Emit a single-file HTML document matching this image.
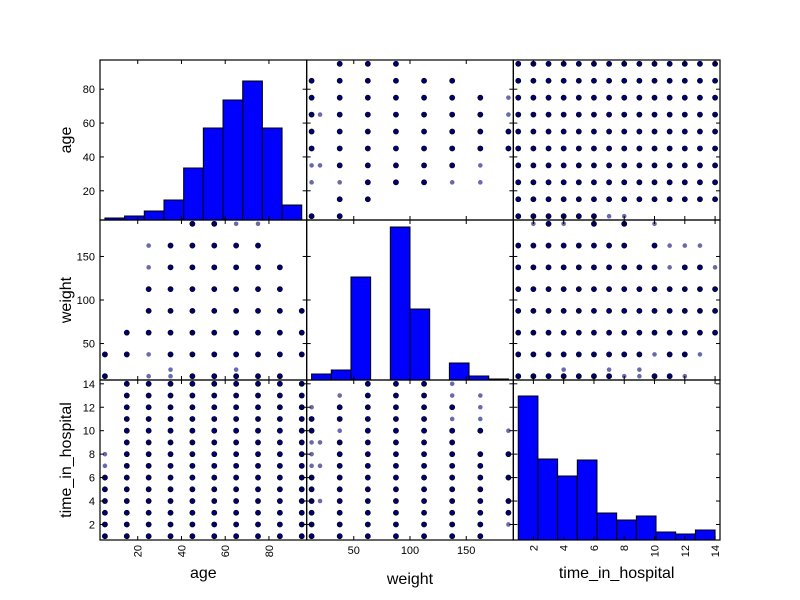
<!DOCTYPE html>
<html><head><meta charset="utf-8"><style>
body{margin:0;background:#fff;}
svg{display:block;font-family:"Liberation Sans","DejaVu Sans",sans-serif;}
</style></head><body>
<svg id="chart" width="800" height="600" viewBox="0 0 800 600" xmlns="http://www.w3.org/2000/svg"></svg>
<script>
const variables = ["age","weight","time_in_hospital"];
const ageCats = [5,15,25,35,45,55,65,75,85,95];
const weightCats = [12.5,20,37.5,62.5,87.5,112.5,137.5,162.5,187.5];
const weightRowCats = [187.5,162.5,137.5,112.5,87.5,62.5,37.5,20,12.5];
const timeCats = [1,2,3,4,5,6,7,8,9,10,11,12,13,14];
const ageRowCats = [95,85,75,65,55,45,35,25,15,5];
const timeRowCats = [14,13,12,11,10,9,8,7,6,5,4,3,2,1];
// density grids: d = dense, l = light, . = none
const gridAgeWeight = ["..ddd....","d.ddddd..","d.ddddddl","dlddddddl","d.ddddddd","d.ddddddd","lldddddl.","l.ldddll.","..dd.....","d.d......"];
const gridWeightAge = ["....ddll..","..lddddd..","..ldddddd.","..ddddddd.","..dddddddd",".ddddddddd","ddlddddddd","...l..l...","d.llddddd."];
const gridAgeTime = ["dddddddddddddd","dddddddddddddd","dddddddddddddd","dddddddddddddd","dddddddddddddd","dddddddddddddd","dddddddddddddd","dddddddddddddd","dddddddddddddd","ddddddll......"];
const gridWeightTime = [".ldl.d.d.l....","dddddddd.dlll.","ddddddddddlddl","dddddddddddddd","dddddddddddddd","dddddddddddddd","dddddddddlddl.","...l..l.l.....","dddddddllddl.."];
const gridTimeAge = [".ddddddddd",".ddddddddd",".ddddddddd",".ddddddddd",".ddddddddd",".ddddddddd","lddddddddd","lddddddddd","dddddddddd","dddddddddd","dddddddddd","dddddddddd","dddddddddd","dddddddddd"];
const gridTimeWeight = ["...dddl..","..ldddll.","l.dddddl.","d.ddddll.","d.ldddddl","llddddd..","l.ddddddd","lldddddd.","d.ddddddd","d.dddddd.","dlddddddd","d.ddddddd","d.ddddddl","d.dddddd."];
const histAge = [2,4,9,20,52,92,120,139,92,15];
const histWeight = [6,10,103,0,153,71,0,17,4,1];
const histTime = [144,81,64,80,27,20,24,8,6,10];
const histMax = 160;
const ageTicks = [20,40,60,80];
const weightTicks = [50,100,150];
const timeTicks = [2,4,6,8,10,12,14];

const NS="http://www.w3.org/2000/svg";
const svg=document.getElementById('chart');
const X0=[100,306.67,513.33], W=206.67, Y0=[60,220,380], H=160;
const ranges=[[2.75,97.25],[8.125,191.875],[0.675,14.325]];
const ticks=[ageTicks,weightTicks,timeTicks];
const bins=[[5,9],[12.5,17.5],[1,1.3]];
const hists=[histAge,histWeight,histTime];
function sx(j,v){const r=ranges[j];return X0[j]+(v-r[0])/(r[1]-r[0])*W;}
function sy(i,v){const r=ranges[i];return Y0[i]+H-(v-r[0])/(r[1]-r[0])*H;}
function mk(tag,attrs,parent){const e=document.createElementNS(NS,tag);for(const k in attrs)e.setAttribute(k,attrs[k]);(parent||svg).appendChild(e);return e;}

function scatter(i,j,grid,rowCats,colCats){
  const g=mk('g',{});
  
  
  grid.forEach((row,ri)=>{for(let ci=0;ci<row.length;ci++){const c=row[ci];if(c==='.')continue;
    const cx=sx(j,colCats[ci]), cy=sy(i,rowCats[ri]);
    const p=mk('circle',c==='d'?{cx:cx,cy:cy,r:2.6,fill:'#000070',stroke:'#000','stroke-width':0.6}:{cx:cx,cy:cy,r:2.3,fill:'#6a6aaa'},g);
    
    
  }});
}
function hist(k){
  const g=mk('g',{});
  
  
  const [start,bw]=bins[k];
  hists[k].forEach((c,b)=>{
    const xa=sx(k,start+b*bw), xb=sx(k,start+(b+1)*bw);
    const h=c/histMax*H;
    if(h<=0)return;
    const r=mk('rect',{x:xa,y:Y0[k]+H-h,width:xb-xa,height:h,fill:'#0000ff',stroke:'#000','stroke-width':1},g);
    
    
  });
}
// panels
for(let i=0;i<3;i++)for(let j=0;j<3;j++){
  const f=mk('rect',{x:X0[j],y:Y0[i],width:W,height:H,fill:'#fff',stroke:'none'});
  
  
}
scatter(0,1,gridAgeWeight,ageRowCats,weightCats);
scatter(0,2,gridAgeTime,ageRowCats,timeCats);
scatter(1,0,gridWeightAge,weightRowCats,ageCats);
scatter(1,2,gridWeightTime,weightRowCats,timeCats);
scatter(2,0,gridTimeAge,timeRowCats,ageCats);
scatter(2,1,gridTimeWeight,timeRowCats,weightCats);
hist(0);hist(1);hist(2);
// ticks & frames
for(let i=0;i<3;i++)for(let j=0;j<3;j++){
  ticks[i].forEach(t=>{const y=sy(i,t);
    mk('line',{x1:X0[j],x2:X0[j]+4,y1:y,y2:y,stroke:'#000','stroke-width':1});
    mk('line',{x1:X0[j]+W,x2:X0[j]+W-4,y1:y,y2:y,stroke:'#000','stroke-width':1});});
  ticks[j].forEach(t=>{const x=sx(j,t);
    mk('line',{x1:x,x2:x,y1:Y0[i],y2:Y0[i]+4,stroke:'#000','stroke-width':1});
    mk('line',{x1:x,x2:x,y1:Y0[i]+H,y2:Y0[i]+H-4,stroke:'#000','stroke-width':1});});
  const fr=mk('rect',{x:X0[j],y:Y0[i],width:W,height:H,fill:'none',stroke:'#000','stroke-width':1.2});
  
  
}
// y tick labels
for(let i=0;i<3;i++){
  ticks[i].forEach(t=>{const tx=mk('text',{x:95,y:sy(i,t)+4,'text-anchor':'end','font-size':11,fill:'#000'});tx.textContent=t;
    
    });
}
// x tick labels
[0,2].forEach(j=>{ticks[j].forEach(t=>{const x=sx(j,t);
  const tx=mk('text',{x:0,y:0,'text-anchor':'end','font-size':11,fill:'#000',transform:`translate(${x+4},545) rotate(-90)`});tx.textContent=t;
  
  });});
ticks[1].forEach(t=>{const tx=mk('text',{x:sx(1,t),y:554,'text-anchor':'middle','font-size':11,fill:'#000'});tx.textContent=t;
  
  });
// axis titles
const xt=[[sx(0,50),578],[sx(1,100),584],[sx(2,7.5),578]];
variables.forEach((v,k)=>{
  const a=mk('text',{x:xt[k][0],y:xt[k][1],'text-anchor':'middle','font-size':16,fill:'#000'});a.textContent=v;
  
  
  const cy=Y0[k]+H/2;
  const b=mk('text',{x:0,y:0,'text-anchor':'middle','font-size':16,fill:'#000',transform:`translate(71,${cy}) rotate(-90)`});b.textContent=v;
  
  
});
</script>
</body></html>
